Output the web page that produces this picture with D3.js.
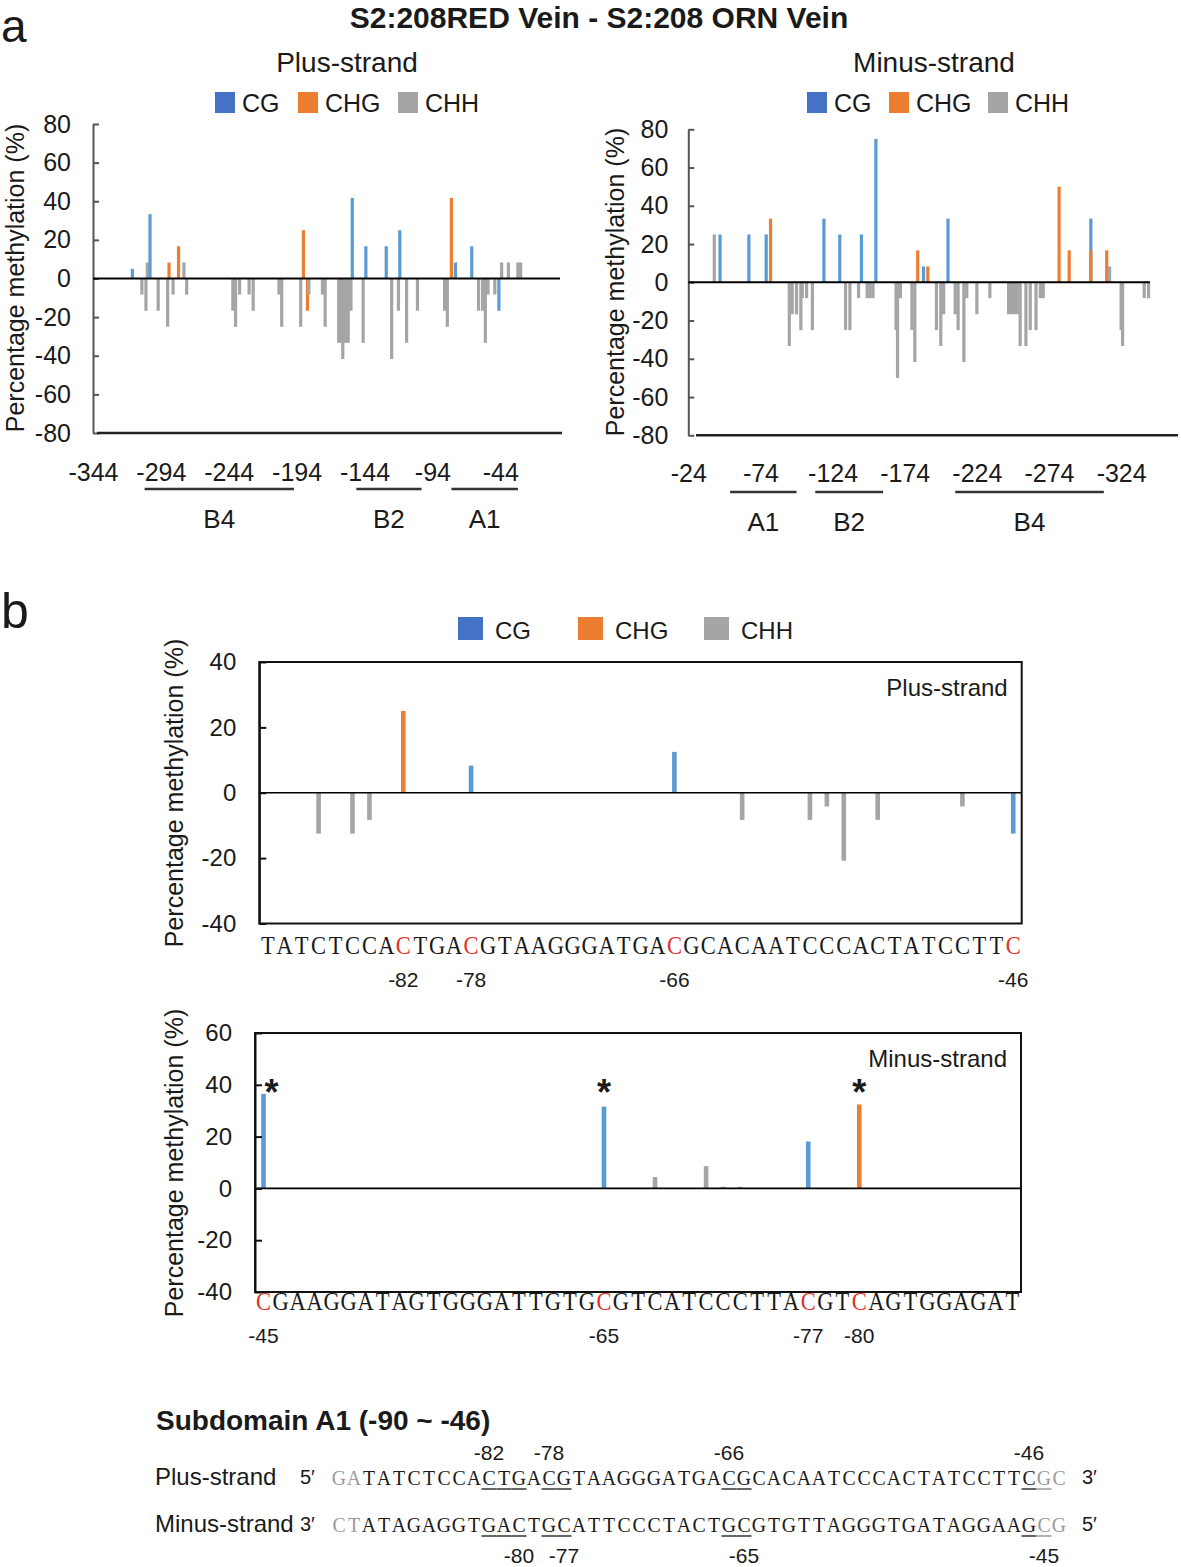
<!DOCTYPE html>
<html><head><meta charset="utf-8">
<script src="https://cdn.jsdelivr.net/npm/d3@7"></script>
<style>body{margin:0;background:#fff} svg{display:block}</style>
</head><body><svg id="c" width="1181" height="1567"></svg>
<script>
// ---------------- DATA ----------------
const contextTypes = ['CG', 'CHG', 'CHH'];
const yTicksA = [80, 60, 40, 20, 0, -20, -40, -60, -80];
const xTicksAPlus = [-344, -294, -244, -194, -144, -94, -44];
const xTicksAMinus = [-24, -74, -124, -174, -224, -274, -324];

// Panel a, plus strand: [position, difference %, context]
const aPlusBars = [
  [-315, 5, 'CG'], [-308, -8.3, 'CHH'], [-305, -16.7, 'CHH'], [-304, 8.3, 'CHH'], [-302, 33.3, 'CG'],
  [-296, -16.7, 'CHH'], [-289, -25, 'CHH'], [-288, 8.3, 'CHG'], [-285, -8.3, 'CHH'], [-281, 16.7, 'CHG'],
  [-277, 8.3, 'CHH'], [-275, -8.3, 'CHH'], [-241, -16.7, 'CHH'], [-239, -25, 'CHH'], [-236, -8.3, 'CHH'],
  [-229, -8.3, 'CHH'], [-226, -16.7, 'CHH'], [-207, -8.3, 'CHH'], [-205, -25, 'CHH'], [-191, -25, 'CHH'],
  [-189, 25, 'CHG'], [-186, -16.7, 'CHG'], [-185, -8.3, 'CHH'], [-175, -8.3, 'CHH'], [-173, -25, 'CHH'],
  [-163, -33.3, 'CHH'], [-161, -33.3, 'CHH'], [-160, -41.7, 'CHH'], [-158, -33.3, 'CHH'], [-156, -33.3, 'CHH'],
  [-154, -16.7, 'CHH'], [-153, 41.7, 'CG'], [-145, -33.3, 'CHH'], [-143, 16.7, 'CG'], [-128, 16.7, 'CG'],
  [-124, -41.7, 'CHH'], [-119, -16.7, 'CHH'], [-118, 25, 'CG'], [-113, -33.3, 'CHH'], [-105, -16.7, 'CHH'],
  [-85, -16.7, 'CHH'], [-83, -25, 'CHH'], [-80, 41.7, 'CHG'], [-77, 8.3, 'CG'], [-65, 16.7, 'CG'],
  [-60, -16.7, 'CHH'], [-57, -16.7, 'CHH'], [-55, -33.3, 'CHH'], [-53, -8.3, 'CHH'], [-48, -8.3, 'CHH'],
  [-45, -16.7, 'CG'], [-43, 8.3, 'CHH'], [-38, 8.3, 'CHH'], [-31, 8.3, 'CHH'], [-29, 8.3, 'CHH']
];
// Panel a, minus strand
const aMinusBars = [
  [-42, 25, 'CHH'], [-46, 25, 'CG'], [-66, 25, 'CG'], [-78, 25, 'CG'], [-81, 33.3, 'CHG'],
  [-94, -33.3, 'CHH'], [-96, -16.7, 'CHH'], [-99, -16.7, 'CHH'], [-102, -25, 'CHH'], [-103, -8.3, 'CHH'],
  [-106, -8.3, 'CHH'], [-110, -25, 'CHH'], [-118, 33.3, 'CG'], [-129, 25, 'CG'], [-133, -25, 'CHH'],
  [-136, -25, 'CHH'], [-142, -8.3, 'CHH'], [-144, 25, 'CG'], [-148, -8.3, 'CHH'], [-150, -8.3, 'CHH'],
  [-152, -8.3, 'CHH'], [-154, 75, 'CG'], [-168, -25, 'CHH'], [-169, -50, 'CHH'], [-171, -8.3, 'CHH'],
  [-179, -25, 'CHH'], [-181, -41.7, 'CHH'], [-183, 16.7, 'CHG'], [-187, 8.3, 'CG'], [-190, 8.3, 'CHG'],
  [-196, -25, 'CHH'], [-199, -33.3, 'CHH'], [-201, -16.7, 'CHH'], [-204, 33.3, 'CG'], [-209, -16.7, 'CHH'],
  [-211, -25, 'CHH'], [-215, -41.7, 'CHH'], [-217, -8.3, 'CHH'], [-224, -16.7, 'CHH'], [-233, -8.3, 'CHH'],
  [-246, -16.7, 'CHH'], [-248, -16.7, 'CHH'], [-250, -16.7, 'CHH'], [-252, -16.7, 'CHH'], [-254, -33.3, 'CHH'],
  [-258, -33.3, 'CHH'], [-261, -25, 'CHH'], [-265, -25, 'CHH'], [-268, -8.3, 'CHH'], [-270, -8.3, 'CHH'],
  [-281, 50, 'CHG'], [-288, 16.7, 'CHG'], [-303, 33.3, 'CG'], [-303, 16.7, 'CHG'], [-314, 16.7, 'CHG'],
  [-316, 8.3, 'CHH'], [-324, -25, 'CHH'], [-325, -33.3, 'CHH'], [-340, -8.3, 'CHH'], [-343, -8.3, 'CHH']
];
// Regions under the axes: [name, from, to] in axis units
const aPlusRegions = [['B4', -306, -196], ['B2', -150, -102], ['A1', -80, -31]];
const aMinusRegions = [['A1', -53, -99], ['B2', -112, -159], ['B4', -209, -312]];

// Panel b
const bPlusSeq = 'TATCTCCACTGACGTAAGGGATGACGCACAATCCCACTATCCTTC';   // -90 .. -46
const bMinusSeq = 'CGAAGGATAGTGGGATTGTGCGTCATCCCTTACGTCAGTGGAGAT';  // -45 .. -89
const bPlusMarked = [-82, -78, -66, -46];
const bMinusMarked = [-45, -65, -77, -80];
const bPlusBars = [
  [-87, -12.5, 'CHH'], [-85, -12.5, 'CHH'], [-84, -8.3, 'CHH'], [-82, 25, 'CHG'], [-78, 8.3, 'CG'],
  [-66, 12.5, 'CG'], [-62, -8.3, 'CHH'], [-58, -8.3, 'CHH'], [-57, -4.2, 'CHH'], [-56, -20.8, 'CHH'],
  [-54, -8.3, 'CHH'], [-49, -4.2, 'CHH'], [-46, -12.5, 'CG']
];
const bMinusBars = [
  [-45, 36.5, 'CG'], [-65, 31.6, 'CG'], [-68, 4.4, 'CHH'], [-71, 8.6, 'CHH'], [-72, 0.6, 'CHH'],
  [-73, 0.6, 'CHH'], [-77, 18.1, 'CG'], [-80, 32.4, 'CHG']
];
const bMinusSignificant = [-45, -65, -80];
const yTicksBPlus = [40, 20, 0, -20, -40];
const yTicksBMinus = [60, 40, 20, 0, -20, -40];

// Subdomain A1 (-92 .. -44 shown)
const subPlus = 'GATATCTCCACTGACGTAAGGGATGACGCACAATCCCACTATCCTTCGC';
const subMinus = 'CTATAGAGGTGACTGCATTCCCTACTGCGTGTTAGGGTGATAGGAAGCG';
const subPlusUnderlined = [-82, -81, -80, -78, -77, -66, -65, -46, -45];
const subMinusUnderlined = [-82, -81, -80, -78, -77, -66, -65, -46, -45];
const subPlusLabels = [-82, -78, -66, -46];
const subMinusLabels = [-80, -77, -65, -45];
const subFlank = [-92, -91, -45, -44];

// ---------------- STYLE ----------------
const barColor = { CG: '#5b9bd5', CHG: '#ed7d31', CHH: '#a5a5a5' };
const legColor = { CG: '#4472c4', CHG: '#ed7d31', CHH: '#a5a5a5' };
const SANS = "'Liberation Sans', Arial, Helvetica, sans-serif";
const SEQ = "'Liberation Serif', 'Times New Roman', serif";
const INK = '#1a1a1a';
const RED = '#e0302a';
const fmt = d => String(d);
const svg = d3.select('#c');

function txt(g, x, y, s, size, opts = {}) {
  return g.append('text').attr('x', x).attr('y', y).text(s)
    .attr('font-family', opts.family || SANS).attr('font-size', size)
    .attr('font-weight', opts.weight || 'normal')
    .attr('text-anchor', opts.anchor || 'start').attr('fill', opts.fill || INK);
}
function yTitle(x, yc) {
  svg.append('text').attr('transform', `translate(${x},${yc}) rotate(-90)`)
    .attr('text-anchor', 'middle').attr('font-family', SANS).attr('font-size', 25)
    .attr('fill', INK).text('Percentage methylation (%)');
}
function legend(x0, yTop, offsets, sq, textDx, size) {
  contextTypes.forEach((t, i) => {
    svg.append('rect').attr('x', x0 + offsets[i]).attr('y', yTop).attr('width', sq[0]).attr('height', sq[1]).attr('fill', legColor[t]);
    txt(svg, x0 + offsets[i] + textDx, yTop + sq[1] - 1, t, size);
  });
}
function styleAxis(s, fs) {
  s.selectAll('text').attr('font-family', SANS).attr('font-size', fs).attr('fill', INK);
}
function seqLetters(g, data, xf, y, size, colorf, charf, sx) {
  g.append('g').selectAll('text').data(data).join('text')
    .attr('transform', p => `translate(${xf(p)},${y}) scale(${sx},1)`)
    .attr('text-anchor', 'middle').attr('font-family', SEQ).attr('font-size', size)
    .attr('fill', colorf).text(charf);
}

// ---------------- PANEL A ----------------
txt(svg, 1, 42, 'a', 46);
txt(svg, 599, 28, 'S2:208RED Vein - S2:208 ORN Vein', 30, { weight: 'bold', anchor: 'middle' });

function panelA(cfg) {
  const x = d3.scaleLinear().domain(cfg.domain).range(cfg.xr);
  const y = d3.scaleLinear().domain([-80, 80]).range(cfg.yr);
  const g = svg.append('g');
  g.append('g').selectAll('rect').data(cfg.bars).join('rect')
    .attr('x', d => x(d[0]) - 1.6).attr('width', 3.2)
    .attr('y', d => y(Math.max(0, d[1])))
    .attr('height', d => Math.abs(y(d[1]) - y(0)))
    .attr('fill', d => barColor[d[2]]);
  g.append('g').attr('transform', `translate(${cfg.xr[0]},0)`)
    .call(d3.axisLeft(y).tickValues(yTicksA).tickSize(-6).tickSizeOuter(0).tickPadding(cfg.pad).tickFormat(fmt))
    .call(s => { s.selectAll('path,line').attr('stroke', '#555').attr('stroke-width', 2); styleAxis(s, 25); });
  g.append('line').attr('x1', cfg.xr[0]).attr('x2', cfg.xr[1]).attr('y1', y(0)).attr('y2', y(0))
    .attr('stroke', '#000').attr('stroke-width', 2);
  g.append('line').attr('x1', cfg.bottom[0]).attr('x2', cfg.bottom[1]).attr('y1', y(-80)).attr('y2', y(-80))
    .attr('stroke', '#222').attr('stroke-width', 2.5);
  g.append('g').attr('transform', `translate(0,${cfg.xLabelY})`)
    .call(d3.axisBottom(x).tickValues(cfg.ticks).tickSize(0).tickPadding(0).tickFormat(fmt))
    .call(s => { s.select('.domain').remove(); styleAxis(s, 25); });
  cfg.regions.forEach(r => {
    g.append('line').attr('x1', x(r[1])).attr('x2', x(r[2])).attr('y1', cfg.regionY).attr('y2', cfg.regionY)
      .attr('stroke', '#333').attr('stroke-width', 2.5);
    txt(g, (x(r[1]) + x(r[2])) / 2, cfg.regionY + 39, r[0], 26, { anchor: 'middle' });
  });
  txt(g, cfg.titleX, 72, cfg.title, 28, { anchor: 'middle' });
}

panelA({ domain: [-344, 0], xr: [93, 560], yr: [433, 124], pad: 22, bars: aPlusBars,
  bottom: [97, 562], ticks: xTicksAPlus, xLabelY: 463, regions: aPlusRegions, regionY: 489,
  title: 'Plus-strand', titleX: 347 });
panelA({ domain: [-24, -344], xr: [688.3, 1150], yr: [435.3, 129.3], pad: 20, bars: aMinusBars,
  bottom: [696, 1178], ticks: xTicksAMinus, xLabelY: 464, regions: aMinusRegions, regionY: 492,
  title: 'Minus-strand', titleX: 934 });
legend(215, 92, [0, 83, 183], [20, 21], 27, 25);
legend(807, 92, [0, 82, 181], [20, 21], 27, 25);
yTitle(24, 278);
yTitle(624, 282);

// ---------------- PANEL B ----------------
txt(svg, 1, 628, 'b', 50);
legend(458, 617, [0, 120, 246], [25, 23], 37, 24);

function panelB(cfg) {
  const x = d3.scaleBand().domain(cfg.positions).range(cfg.xr);
  const y = d3.scaleLinear().domain(cfg.yDomain).range(cfg.yr);
  const cx = p => x(p) + x.bandwidth() / 2;
  const g = svg.append('g');
  g.append('g').selectAll('rect').data(cfg.bars).join('rect')
    .attr('x', d => cx(d[0]) - 2.3).attr('width', 4.6)
    .attr('y', d => y(Math.max(0, d[1])))
    .attr('height', d => Math.abs(y(d[1]) - y(0)))
    .attr('fill', d => barColor[d[2]]);
  g.append('line').attr('x1', cfg.xr[0]).attr('x2', cfg.xr[1]).attr('y1', y(0)).attr('y2', y(0))
    .attr('stroke', '#000').attr('stroke-width', 1.6);
  g.append('g').attr('transform', `translate(${cfg.xr[0]},0)`)
    .call(d3.axisLeft(y).tickValues(cfg.yTicks).tickSize(-7).tickSizeOuter(0).tickPadding(23).tickFormat(fmt))
    .call(s => { s.selectAll('path,line').attr('stroke', '#111').attr('stroke-width', 2); styleAxis(s, 24); });
  g.append('rect').attr('x', cfg.xr[0]).attr('y', cfg.yr[1]).attr('width', cfg.xr[1] - cfg.xr[0])
    .attr('height', cfg.yr[0] - cfg.yr[1]).attr('fill', 'none').attr('stroke', '#111').attr('stroke-width', 2);
  seqLetters(g, cfg.positions, cx, cfg.seqY, 25,
    p => cfg.marked.includes(p) ? RED : INK, (p, i) => cfg.seq[i], 0.9);
  cfg.marked.forEach(p => txt(g, cx(p), cfg.seqY + 33, String(p), 21, { anchor: 'middle' }));
  txt(g, cfg.xr[1] - 14, cfg.yr[1] + 34, cfg.title, 24, { anchor: 'end' });
  (cfg.stars || []).forEach(p => {
    const sx = p === cfg.positions[0] ? cx(p) + 8 : cx(p);
    txt(g, sx, cfg.starY, '*', 36, { anchor: 'middle', weight: 'bold' });
  });
}

panelB({ positions: d3.range(-90, -45), xr: [259.3, 1021.7], yDomain: [-40, 40], yr: [923.5, 662],
  bars: bPlusBars, yTicks: yTicksBPlus, seq: bPlusSeq, marked: bPlusMarked, seqY: 954, title: 'Plus-strand' });
panelB({ positions: d3.range(-45, -90, -1), xr: [255, 1021], yDomain: [-40, 60], yr: [1292, 1033],
  bars: bMinusBars, yTicks: yTicksBMinus, seq: bMinusSeq, marked: bMinusMarked, seqY: 1310,
  title: 'Minus-strand', stars: bMinusSignificant, starY: 1105 });
yTitle(183, 793);
yTitle(183, 1163);

// ---------------- SUBDOMAIN ----------------
txt(svg, 156, 1430, 'Subdomain A1 (-90 ~ -46)', 28, { weight: 'bold' });
const sxs = d3.scaleBand().domain(d3.range(-92, -43)).range([331.5, 1066.5]);
const scx = p => sxs(p) + sxs.bandwidth() / 2;
function subRow(seq, y, underlined, labels, labelDy, leftLab, rightLab, strand) {
  const g = svg.append('g');
  txt(g, 155, y, strand, 24);
  txt(g, 300, y - 1, leftLab, 20);
  txt(g, 1082, y - 1, rightLab, 20);
  seqLetters(g, d3.range(-92, -43), scx, y, 22,
    p => subFlank.includes(p) ? '#9a9a9a' : INK, (p, i) => seq[i], 0.9);
  g.append('g').selectAll('line').data(underlined).join('line')
    .attr('x1', p => sxs(p)).attr('x2', p => sxs(p) + sxs.bandwidth())
    .attr('y1', y + 4).attr('y2', y + 4)
    .attr('stroke', p => subFlank.includes(p) ? '#9a9a9a' : '#333').attr('stroke-width', 1.5);
  labels.forEach(p => txt(g, scx(p), y + labelDy, String(p), 21, { anchor: 'middle' }));
}
subRow(subPlus, 1485, subPlusUnderlined, subPlusLabels, -25, '5\u2032', '3\u2032', 'Plus-strand');
subRow(subMinus, 1532, subMinusUnderlined, subMinusLabels, 31, '3\u2032', '5\u2032', 'Minus-strand');
</script></body></html>
